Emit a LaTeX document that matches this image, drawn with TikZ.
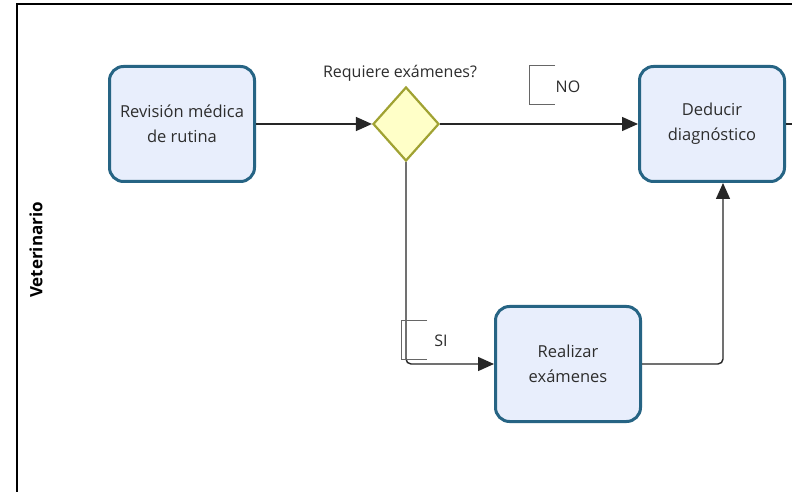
\documentclass[tikz,border=0pt]{standalone}
\usepackage{fontspec}
\setmainfont{Open Sans}
\usetikzlibrary{arrows.meta,shapes.geometric}
\definecolor{taskfill}{RGB}{232,238,252}
\definecolor{taskline}{RGB}{38,100,132}
\definecolor{gatefill}{RGB}{255,255,200}
\definecolor{gateline}{RGB}{160,162,50}
\definecolor{txt}{RGB}{45,45,45}
\tikzset{
  task/.style={rectangle, rounded corners=14bp, draw=taskline, line width=3bp,
    fill=taskfill, minimum width=145bp, minimum height=115bp, align=center,
    text=txt, font=\fontsize{16.5bp}{25bp}\selectfont, inner sep=0pt},
  gate/.style={diamond, draw=gateline, fill=gatefill, line width=2.2bp,
    minimum width=66bp, minimum height=74bp, inner sep=0pt, aspect=0.9},
  flow/.style={line width=1.4bp, draw=black!85, rounded corners=5bp,
    -{Triangle[length=16bp,width=14bp]}},
  plain/.style={line width=1.4bp, draw=black!85},
  lbl/.style={text=txt, font=\fontsize{16bp}{18bp}\selectfont, inner sep=0pt},
  bracket/.style={line width=0.8bp, draw=black!60}
}
\begin{document}
\begin{tikzpicture}[x=1bp,y=-1bp]
  \useasboundingbox (0,0) rectangle (792,492);
  \fill[white] (0,0) rectangle (792,492);

  % pool frame
  \draw[line width=2bp] (17,492) -- (17,4) -- (792,4);
  \node[rotate=90, font=\bfseries\fontsize{17bp}{20bp}\selectfont, inner sep=0pt] (lane) at (36,250) {Veterinario};

  % activities and gateway
  \node[task] (rev) at (182,124) {Revisión médica\\de rutina};
  \node[gate] (gw) at (406,124) {};
  \node[task] (ded) at (712,124) {Deducir\\diagnóstico};
  \node[task] (exa) at (568,364) {Realizar\\exámenes};

  \node[lbl] (q) at (400,73) {Requiere exámenes?};

  % sequence flows
  \draw[flow] (rev.east) -- (gw.west);
  \draw[flow] (gw.east) -- (ded.west);
  \draw[flow] (gw.south) |- (exa.west);
  \coordinate (out) at (792,124);
  \draw[plain] (ded.east) -- (out);
  \coordinate (up) at (723,364);
  \draw[flow] (exa.east) -- (up) -- (up |- ded.south);

  % condition annotations
  \draw[bracket] (555,65) -- (529,65) -- (529,104) -- (555,104);
  \node[lbl] (no) at (568,87) {NO};
  \draw[bracket] (427,320) -- (401,320) -- (401,359) -- (427,359);
  \node[lbl] (si) at (441,341) {SI};
\end{tikzpicture}
\end{document}
